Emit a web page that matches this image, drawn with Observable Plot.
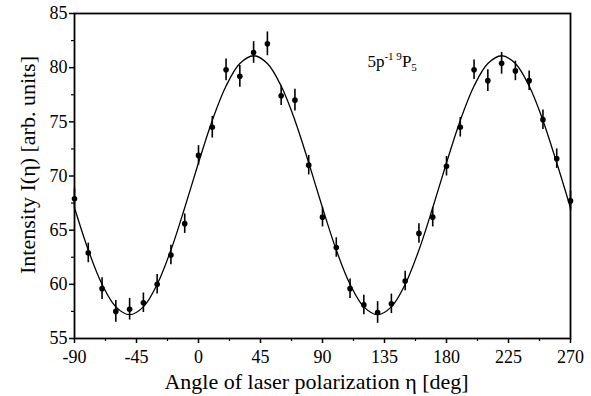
<!DOCTYPE html>
<html>
<head>
<meta charset="utf-8">
<script src="https://cdn.jsdelivr.net/npm/d3@7"></script>
<script src="https://cdn.jsdelivr.net/npm/@observablehq/plot@0.6"></script>
<style>
  html, body { margin: 0; padding: 0; background: #fff; }
  #chart svg { display: block; }
  #chart svg, #chart svg text, #chart svg tspan {
    font-family: "Liberation Serif", "DejaVu Serif", serif !important;
  }
</style>
</head>
<body>
<div id="chart"></div>
<script>
// Measured points (angle in deg, intensity in arb. units, error bar half-length)
const angles = [-90,-80,-70,-60,-50,-40,-30,-20,-10,0,10,20,30,40,50,60,70,80,90,100,110,120,130,140,150,160,170,180,190,200,210,220,230,240,250,260,270];
const intensities = [67.9,62.9,59.6,57.5,57.7,58.3,60.0,62.7,65.6,71.9,74.5,79.8,79.2,81.4,82.2,77.4,77.0,71.0,66.2,63.4,59.6,58.1,57.4,58.2,60.3,64.7,66.2,70.9,74.5,79.8,78.8,80.4,79.7,78.8,75.2,71.6,67.7];
const errors = [0.9,0.9,1.0,1.0,1.0,0.9,0.9,0.9,0.9,0.9,1.0,1.0,1.0,1.0,1.1,0.9,1.0,0.9,0.9,0.9,0.9,0.9,1.0,0.9,0.9,0.9,0.9,0.9,0.9,0.9,1.0,1.0,0.9,0.9,0.9,0.9,0.9];

// Fitted curve
const fitAngles = [-90,-80,-70,-60,-50,-40,-30,-20,-10,0,10,20,30,40,50,60,70,80,90,100,110,120,130,140,150,160,170,180,190,200,210,220,230,240,250,260,270];
const fitValues = [67.07,63.17,60.00,57.92,57.20,57.92,60.00,63.17,67.07,71.22,75.13,78.30,80.38,81.10,80.38,78.30,75.13,71.22,67.07,63.17,60.00,57.92,57.20,57.92,60.00,63.17,67.07,71.22,75.13,78.30,80.38,81.10,80.38,78.30,75.13,71.22,67.07];

// Ticks
const xTicks = [-90,-45,0,45,90,135,180,225,270];
const xMinor = [-67.5,-22.5,22.5,67.5,112.5,157.5,202.5,247.5];
const yTicks = [55,60,65,70,75,80,85];
const yMinor = [57.5,62.5,67.5,72.5,77.5,82.5];

const xTitle = "Angle of laser polarization η [deg]";
const yTitle = "Intensity I(η) [arb. units]";
const annot = {x: 123, y: 80.0};

const points = angles.map((a, i) => ({a, v: intensities[i], e: errors[i]}));
const fit = fitAngles.map((a, i) => ({a, v: fitValues[i]}));

const font = "Liberation Serif, DejaVu Serif, serif";

function annotation(index, scales, values, dimensions, context) {
  const t = d3.create("svg:text")
    .attr("x", scales.x(annot.x))
    .attr("y", scales.y(annot.y))
    .attr("text-anchor", "start")
    .attr("font-size", 17)
    .attr("fill", "black");
  t.append("tspan").text("5p");
  t.append("tspan").attr("font-size", 11).attr("dy", -7).text("-1 9");
  t.append("tspan").attr("dy", 7).text("P");
  t.append("tspan").attr("font-size", 11).attr("dy", 4).text("5");
  return t.node();
}

const chart = Plot.plot({
  width: 591,
  height: 396,
  marginLeft: 74,
  marginRight: 21,
  marginTop: 13,
  marginBottom: 58,
  style: "font-family: " + font + "; background: white; color: black;",
  x: {domain: [-90, 270]},
  y: {domain: [55, 85]},
  marks: [
    Plot.line(fit, {x: "a", y: "v", curve: "catmull-rom", stroke: "black", strokeWidth: 1.3}),
    Plot.ruleX(points, {x: "a", y1: d => d.v - d.e, y2: d => d.v + d.e, stroke: "black", strokeWidth: 1.6}),
    Plot.dot(points, {x: "a", y: "v", r: 2.8, fill: "black", stroke: "none"}),
    Plot.frame({stroke: "black", strokeWidth: 1.8}),
    Plot.axisX({ticks: xTicks, tickSize: 5, tickPadding: 7, fontSize: 18, label: null, tickFormat: d => String(d), strokeWidth: 1.5}),
    Plot.axisX({ticks: xMinor, tickSize: 3, text: null, label: null, strokeWidth: 1.2}),
    Plot.axisY({ticks: yTicks, tickSize: 5, tickPadding: 2, fontSize: 18, label: null, strokeWidth: 1.5}),
    Plot.axisY({ticks: yMinor, tickSize: 3, text: null, label: null, strokeWidth: 1.2}),
    Plot.text([xTitle], {text: d => d, frameAnchor: "bottom", textAnchor: "middle", dx: -6, dy: 43, fontSize: 22, lineAnchor: "middle"}),
    Plot.text([yTitle], {text: d => d, frameAnchor: "left", textAnchor: "middle", dx: -47, dy: -11, rotate: -90, fontSize: 22, lineAnchor: "middle"}),
    annotation
  ]
});
document.getElementById("chart").appendChild(chart);
</script>
</body>
</html>
